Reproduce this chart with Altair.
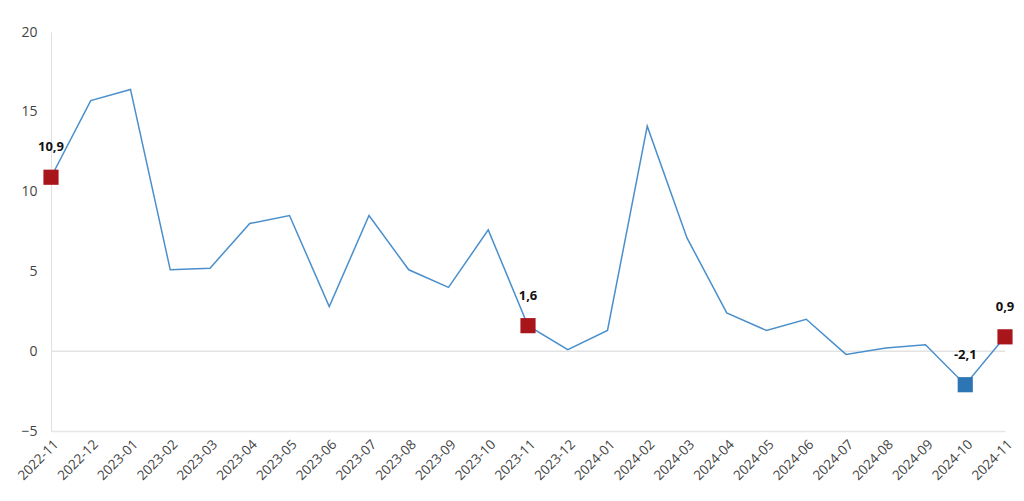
import altair as alt
import pandas as pd

months = ["2022-11","2022-12","2023-01","2023-02","2023-03","2023-04","2023-05","2023-06",
          "2023-07","2023-08","2023-09","2023-10","2023-11","2023-12","2024-01","2024-02",
          "2024-03","2024-04","2024-05","2024-06","2024-07","2024-08","2024-09","2024-10","2024-11"]
values = [10.9, 15.7, 16.4, 5.1, 5.2, 8.0, 8.5, 2.8, 8.5, 5.1, 4.0, 7.6, 1.6, 0.1, 1.3, 14.1,
          7.1, 2.4, 1.3, 2.0, -0.2, 0.2, 0.4, -2.1, 0.9]

mark_months = ["2022-11", "2023-11", "2024-10", "2024-11"]
mark_values = [10.9, 1.6, -2.1, 0.9]
mark_labels = ["10,9", "1,6", "-2,1", "0,9"]
mark_colors = ["#a8151b", "#a8151b", "#2e75b6", "#a8151b"]

df = pd.DataFrame({"month": months, "value": values})
dm = pd.DataFrame({"month": mark_months, "value": mark_values, "label": mark_labels, "color": mark_colors})

x = alt.X("month:O", sort=months, title=None,
          scale=alt.Scale(type="point", padding=0),
          axis=alt.Axis(labelAngle=-45, labelColor="#444444", labelFontSize=13.5,
                        labelFont="Open Sans", ticks=False, domain=True, domainColor="#e6e6e6",
                        domainWidth=1.5, labelPadding=6))
y = alt.Y("value:Q", title=None,
          scale=alt.Scale(domain=[-5, 20], nice=False, zero=False),
          axis=alt.Axis(values=[-5, 0, 5, 10, 15, 20], grid=False, ticks=False,
                        labelColor="#444444", labelFontSize=14, labelFont="Open Sans",
                        domainColor="#e0e0e0", labelPadding=14))

zero = alt.Chart(pd.DataFrame({"z": [0]})).mark_rule(color="#e3e3e3", strokeWidth=1.5).encode(
    y=alt.Y("z:Q", scale=alt.Scale(domain=[-5, 20], nice=False)))

line = alt.Chart(df).mark_line(color="#4a8fcb", strokeWidth=1.5).encode(x=x, y=y)

pts = alt.Chart(dm).mark_square(size=230, opacity=1).encode(
    x=alt.X("month:O", sort=months), y="value:Q",
    color=alt.Color("color:N", scale=None))

txt = alt.Chart(dm).mark_text(fontWeight="bold", fontSize=13, dy=-30, color="#111111",
                             font="Open Sans").encode(
    x=alt.X("month:O", sort=months), y="value:Q", text="label:N")

chart = alt.layer(zero, line, pts, txt).properties(
    width=954, height=399,
    background="white",
    autosize=alt.AutoSizeParams(type="none"),
    padding={"left": 43, "top": 24, "right": 10, "bottom": 60}
).configure_view(stroke=None)

chart.save("out.html", embed_options={"renderer": "svg", "actions": False})
